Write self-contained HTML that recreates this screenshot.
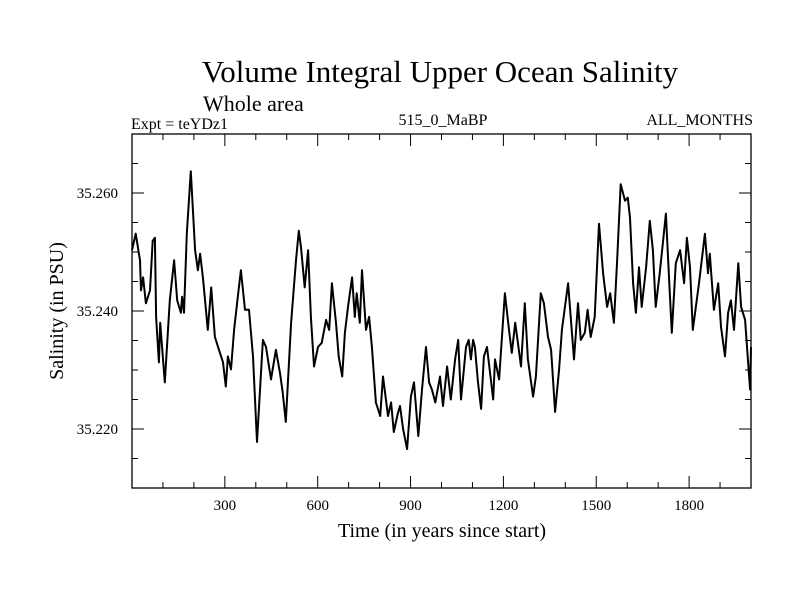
<!DOCTYPE html>
<html><head><meta charset="utf-8"><style>
body{margin:0;background:#fff;}
svg{display:block;font-family:"Liberation Serif",serif;}
</style></head><body>
<svg id="chart" width="800" height="600">
<text x="440" y="82" font-size="31" text-anchor="middle">Volume Integral Upper Ocean Salinity</text>
<text x="203" y="111" font-size="22">Whole area</text>
<text x="131" y="129" font-size="16">Expt = teYDz1</text>
<text x="443" y="125" font-size="16" text-anchor="middle">515_0_MaBP</text>
<text x="753" y="125" font-size="16" text-anchor="end">ALL_MONTHS</text>
<text x="442" y="537" font-size="20" text-anchor="middle">Time (in years since start)</text>
<text transform="translate(63,311) rotate(-90)" font-size="20" text-anchor="middle">Salinity (in PSU)</text>
<g id="axes"></g>
<path id="series" fill="none" stroke="#000" stroke-width="2" stroke-linejoin="round"></path>
<rect x="132" y="134" width="619" height="354" fill="none" stroke="#000" stroke-width="1.3"></rect>
</svg>
<script>
const years=[0,12,26,29,36,45,58,67,74,78,87,91,106,122,136,146,158,162,168,177,190,204,213,220,229,245,256,268,281,294,303,310,320,330,342,352,365,378,391,404,423,433,449,465,478,487,497,514,530,539,546,558,569,578,588,601,613,627,637,646,659,668,679,688,698,711,720,726,736,743,756,766,775,788,802,811,827,837,846,860,866,876,889,901,911,925,937,950,960,969,980,995,1005,1018,1030,1044,1054,1063,1079,1088,1095,1102,1108,1118,1128,1137,1147,1167,1173,1186,1205,1218,1227,1238,1247,1257,1269,1279,1296,1305,1321,1331,1344,1354,1367,1380,1389,1409,1428,1441,1450,1463,1472,1482,1495,1509,1522,1535,1545,1557,1567,1579,1593,1602,1609,1619,1628,1638,1647,1661,1673,1683,1692,1705,1716,1725,1735,1744,1757,1771,1784,1793,1803,1812,1832,1851,1861,1867,1880,1894,1903,1916,1926,1935,1945,1959,1968,1981,1990,1997,2000];
const salinity=[35.2503,35.2531,35.2486,35.2435,35.2457,35.2413,35.2435,35.2519,35.2524,35.2390,35.2313,35.2380,35.2279,35.2418,35.2486,35.2418,35.2397,35.2424,35.2397,35.2531,35.2637,35.2503,35.2469,35.2497,35.2457,35.2368,35.2440,35.2356,35.2334,35.2313,35.2272,35.2323,35.2301,35.2368,35.2424,35.2469,35.2402,35.2402,35.2323,35.2178,35.2351,35.2339,35.2284,35.2334,35.2296,35.2262,35.2212,35.2380,35.2486,35.2536,35.2508,35.2440,35.2503,35.2390,35.2306,35.2339,35.2346,35.2385,35.2368,35.2447,35.2380,35.2323,35.2289,35.2363,35.2407,35.2457,35.2390,35.2430,35.2380,35.2469,35.2368,35.2390,35.2339,35.2245,35.2222,35.2289,35.2222,35.2245,35.2195,35.2229,35.2239,35.2200,35.2166,35.2255,35.2279,35.2188,35.2267,35.2339,35.2279,35.2267,35.2245,35.2289,35.2239,35.2306,35.2250,35.2318,35.2351,35.2250,35.2339,35.2351,35.2318,35.2351,35.2339,35.2279,35.2234,35.2323,35.2339,35.2250,35.2318,35.2284,35.2430,35.2368,35.2329,35.2380,35.2346,35.2306,35.2413,35.2318,35.2255,35.2289,35.2430,35.2413,35.2356,35.2334,35.2229,35.2301,35.2368,35.2447,35.2318,35.2413,35.2351,35.2363,35.2402,35.2356,35.2390,35.2548,35.2464,35.2407,35.2430,35.2380,35.2481,35.2615,35.2587,35.2592,35.2558,35.2447,35.2397,35.2474,35.2407,35.2474,35.2553,35.2503,35.2407,35.2464,35.2519,35.2565,35.2457,35.2363,35.2481,35.2503,35.2447,35.2524,35.2474,35.2368,35.2447,35.2531,35.2464,35.2497,35.2402,35.2447,35.2373,35.2323,35.2397,35.2418,35.2368,35.2481,35.2407,35.2385,35.2318,35.2267,35.2339];
const xTickLabels=[300,600,900,1200,1500,1800];
const yTickLabels=[35.220,35.240,35.260];

const L=132,R=751,T=134,B=488,X0=0,X1=2000,Y0=35.210,Y1=35.270;
const sx=v=>L+(v-X0)/(X1-X0)*(R-L);
const sy=v=>B-(v-Y0)/(Y1-Y0)*(B-T);
const NS='http://www.w3.org/2000/svg';
const axes=document.getElementById('axes');
function line(x1,y1,x2,y2,name){const e=document.createElementNS(NS,'line');e.setAttribute('x1',x1);e.setAttribute('y1',y1);e.setAttribute('x2',x2);e.setAttribute('y2',y2);e.setAttribute('stroke','#000');e.setAttribute('stroke-width','1');


axes.appendChild(e);}
function text(x,y,s,anchor,name){const e=document.createElementNS(NS,'text');e.setAttribute('x',x);e.setAttribute('y',y);e.setAttribute('font-size','15');e.setAttribute('text-anchor',anchor);e.textContent=s;


axes.appendChild(e);}
for(let v=100;v<X1;v+=100){const x=sx(v);const len=v%300===0?12:6;line(x,B,x,B-len,'x-tick');line(x,T,x,T+len,'x-tick-top');}
xTickLabels.forEach(v=>text(sx(v),510,String(v),'middle','x-tick-label'));
for(let i=1;i<12;i++){const v=Y0+i*0.005;const y=sy(v);const major=i%4===2;const len=major?12:6;line(L,y,L+len,y,'y-tick');line(R,y,R-len,y,'y-tick-right');}
yTickLabels.forEach(v=>text(118,sy(v)+5,v.toFixed(3),'end','y-tick-label'));
let d='';years.forEach((yr,i)=>{d+=(i?'L':'M')+sx(yr).toFixed(1)+','+sy(salinity[i]).toFixed(1);});
document.getElementById('series').setAttribute('d',d);
</script>
</body></html>
